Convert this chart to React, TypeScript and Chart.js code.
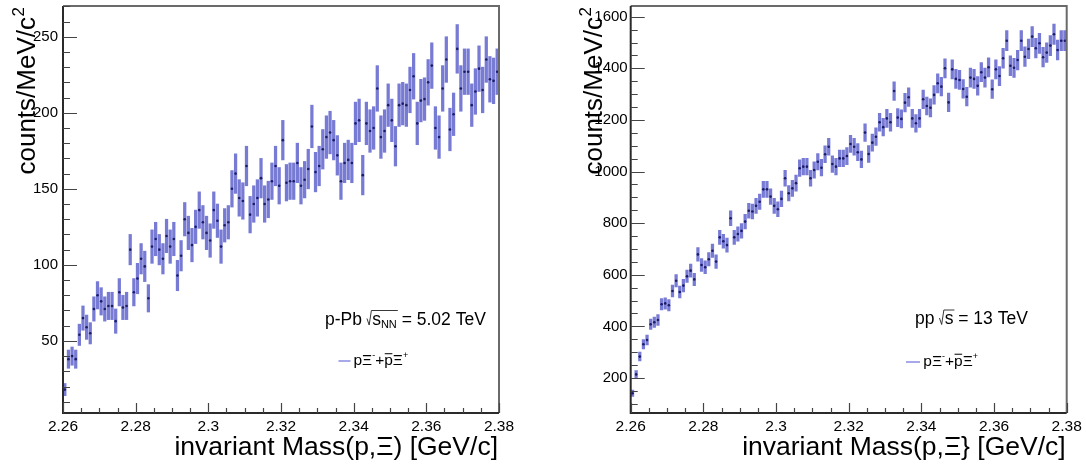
import React, { useEffect, useRef } from 'react';
import { Chart, registerables } from 'chart.js';

Chart.register(...registerables);

// ---------- data ----------
const MASS_BINS = [
  2.2605, 2.2615, 2.2625, 2.2635, 2.2645, 2.2655, 2.2665, 2.2675, 2.2685, 2.2695,
  2.2705, 2.2715, 2.2725, 2.2735, 2.2745, 2.2755, 2.2765, 2.2775, 2.2785, 2.2795,
  2.2805, 2.2815, 2.2825, 2.2835, 2.2845, 2.2855, 2.2865, 2.2875, 2.2885, 2.2895,
  2.2905, 2.2915, 2.2925, 2.2935, 2.2945, 2.2955, 2.2965, 2.2975, 2.2985, 2.2995,
  2.3005, 2.3015, 2.3025, 2.3035, 2.3045, 2.3055, 2.3065, 2.3075, 2.3085, 2.3095,
  2.3105, 2.3115, 2.3125, 2.3135, 2.3145, 2.3155, 2.3165, 2.3175, 2.3185, 2.3195,
  2.3205, 2.3215, 2.3225, 2.3235, 2.3245, 2.3255, 2.3265, 2.3275, 2.3285, 2.3295,
  2.3305, 2.3315, 2.3325, 2.3335, 2.3345, 2.3355, 2.3365, 2.3375, 2.3385, 2.3395,
  2.3405, 2.3415, 2.3425, 2.3435, 2.3445, 2.3455, 2.3465, 2.3475, 2.3485, 2.3495,
  2.3505, 2.3515, 2.3525, 2.3535, 2.3545, 2.3555, 2.3565, 2.3575, 2.3585, 2.3595,
  2.3605, 2.3615, 2.3625, 2.3635, 2.3645, 2.3655, 2.3665, 2.3675, 2.3685, 2.3695,
  2.3705, 2.3715, 2.3725, 2.3735, 2.3745, 2.3755, 2.3765, 2.3775, 2.3785, 2.3795,
];

const PPB_COUNTS = [
  18, 38, 40, 38, 54, 65, 59, 55, 71, 80,
  76, 71, 73, 73, 63, 82, 72, 73, 110, 82,
  91, 104, 99, 78, 112, 117, 110, 104, 119, 112,
  117, 93, 106, 130, 121, 113, 125, 136, 128, 121,
  116, 136, 129, 112, 126, 128, 150, 160, 144, 142,
  165, 133, 140, 144, 157, 140, 143, 155, 165, 152,
  182, 154, 155, 155, 167, 152, 156, 163, 191, 161,
  165, 176, 184, 187, 182, 172, 155, 167, 169, 167,
  193, 195, 159, 193, 188, 190, 216, 184, 188, 205,
  195, 178, 205, 206, 205, 215, 224, 193, 208, 209,
  220, 231, 190, 184, 216, 235, 189, 199, 242, 216,
  227, 227, 205, 214, 229, 215, 235, 222, 221, 227,
];

const PPB_ERRORS = [
  4, 6, 6, 6, 7, 8, 8, 7, 8, 9,
  9, 8, 9, 9, 8, 9, 8, 9, 10, 9,
  10, 10, 10, 9, 11, 11, 10, 10, 11, 11,
  11, 10, 10, 11, 11, 11, 11, 12, 11, 11,
  11, 12, 11, 11, 11, 11, 12, 13, 12, 12,
  13, 12, 12, 12, 13, 12, 12, 12, 13, 12,
  13, 12, 12, 12, 13, 12, 12, 13, 14, 13,
  13, 13, 14, 14, 13, 13, 12, 13, 13, 13,
  14, 14, 13, 14, 14, 14, 15, 14, 14, 14,
  14, 13, 14, 14, 14, 15, 15, 14, 14, 14,
  15, 15, 14, 14, 15, 15, 14, 14, 16, 15,
  15, 15, 14, 15, 15, 15, 15, 15, 15, 15,
];

const PP_COUNTS = [
  141, 214, 283, 331, 347, 408, 416, 425, 486, 489,
  482, 537, 577, 533, 558, 594, 616, 582, 679, 638,
  629, 660, 693, 651, 745, 730, 715, 819, 745, 758,
  770, 806, 848, 845, 867, 883, 931, 931, 903, 867,
  854, 894, 974, 916, 935, 955, 1013, 1019, 1019, 974,
  1006, 1038, 1015, 1067, 1096, 1029, 1019, 1051, 1051, 1060,
  1107, 1096, 1075, 1047, 1151, 1068, 1112, 1135, 1191, 1172,
  1206, 1191, 1312, 1209, 1204, 1267, 1288, 1206, 1187, 1206,
  1280, 1254, 1247, 1297, 1342, 1329, 1400, 1268, 1396, 1359,
  1355, 1320, 1290, 1364, 1359, 1332, 1385, 1364, 1404, 1319,
  1396, 1370, 1439, 1507, 1410, 1402, 1432, 1507, 1445, 1475,
  1523, 1478, 1497, 1443, 1461, 1488, 1532, 1471, 1507, 1507,
];

const PP_ERRORS = [
  12, 15, 17, 18, 19, 20, 20, 21, 22, 22,
  22, 23, 24, 23, 24, 24, 25, 24, 26, 25,
  25, 26, 26, 26, 27, 27, 27, 29, 27, 28,
  28, 28, 29, 29, 29, 30, 31, 31, 30, 29,
  29, 30, 31, 30, 31, 31, 32, 32, 32, 31,
  32, 32, 32, 33, 33, 32, 32, 32, 32, 33,
  33, 33, 33, 32, 34, 33, 33, 34, 35, 34,
  35, 35, 36, 35, 35, 36, 36, 35, 34, 35,
  36, 35, 35, 36, 37, 36, 37, 36, 37, 37,
  37, 36, 36, 37, 37, 36, 37, 37, 37, 36,
  37, 37, 38, 39, 38, 37, 38, 39, 38, 38,
  39, 38, 39, 38, 38, 39, 39, 38, 39, 39,
];

const X_TICKS = [2.26, 2.28, 2.3, 2.32, 2.34, 2.36, 2.38];
const X_TICK_LABELS = ['2.26', '2.28', '2.3', '2.32', '2.34', '2.36', '2.38'];
const PPB_Y_TICKS = [50, 100, 150, 200, 250];
const PPB_Y_TICK_LABELS = ['50', '100', '150', '200', '250'];
const PP_Y_TICKS = [200, 400, 600, 800, 1000, 1200, 1400, 1600];
const PP_Y_TICK_LABELS = ['200', '400', '600', '800', '1000', '1200', '1400', '1600'];

const Y_TITLE = 'counts/MeV/c';
const PPB_X_TITLE = 'invariant Mass(p,\u039E) [GeV/c]';
const PP_X_TITLE = 'invariant Mass(p,\u039E} [GeV/c]';

// ---------- styling / layout ----------
const FONT = '"Liberation Sans", Arial, Helvetica, sans-serif';
const CANVAS_W = 543;
const CANVAS_H = 470;

type Spec = {
  counts: number[];
  errors: number[];
  yMin: number;
  yMax: number;
  yTicks: number[];
  yTickLabels: string[];
  yMinorStep: number;
  canvasLeft: number;
  areaLeft: number;
  areaRight: number;
  areaTop: number;
  areaBottom: number;
  yLabelPad: number;
  yTitleX: number;
  xTitle: string;
  system: 'ppb' | 'pp';
  energyX: number;
  energyY: number;
  legendLineX0: number;
  legendLineX1: number;
  legendLineY: number;
  legendTextX: number;
  legendTextY: number;
};

const PANELS: Spec[] = [
  {
    counts: PPB_COUNTS,
    errors: PPB_ERRORS,
    yMin: 2.6,
    yMax: 270.2,
    yTicks: PPB_Y_TICKS,
    yTickLabels: PPB_Y_TICK_LABELS,
    yMinorStep: 10,
    canvasLeft: 0,
    areaLeft: 63,
    areaRight: 499,
    areaTop: 6,
    areaBottom: 413,
    yLabelPad: 5,
    yTitleX: 35,
    xTitle: PPB_X_TITLE,
    system: 'ppb',
    energyX: 325,
    energyY: 324.5,
    legendLineX0: 338.5,
    legendLineX1: 350.5,
    legendLineY: 361,
    legendTextX: 353.5,
    legendTextY: 365,
  },
  {
    counts: PP_COUNTS,
    errors: PP_ERRORS,
    yMin: 64.4,
    yMax: 1641.5,
    yTicks: PP_Y_TICKS,
    yTickLabels: PP_Y_TICK_LABELS,
    yMinorStep: 50,
    canvasLeft: 543,
    areaLeft: 87.7,
    areaRight: 523.7,
    areaTop: 6,
    areaBottom: 413,
    yLabelPad: 3,
    yTitleX: 59,
    xTitle: PP_X_TITLE,
    system: 'pp',
    energyX: 372,
    energyY: 324,
    legendLineX0: 363,
    legendLineX1: 377,
    legendLineY: 362,
    legendTextX: 380.3,
    legendTextY: 365.5,
  },
];

type Run = { t: string; size: number; dy?: number; over?: boolean; gap?: number };

function drawRuns(ctx: CanvasRenderingContext2D, x: number, y: number, runs: Run[]) {
  let cx = x;
  for (const r of runs) {
    ctx.font = `${r.size}px ${FONT}`;
    const w = ctx.measureText(r.t).width;
    const yy = y + (r.dy || 0);
    ctx.fillText(r.t, cx, yy);
    if (r.over) ctx.fillRect(cx + 0.5, yy - r.size * 0.76, w - 1, 1);
    cx += w + (r.gap || 0);
  }
  return cx;
}

function makeDecorPlugin(p: Spec) {
  return {
    id: 'rootDecor' + p.system,
    afterDraw(chart: any) {
      const ctx: CanvasRenderingContext2D = chart.ctx;
      const a = chart.chartArea;
      const xs = chart.scales.x;
      const ys = chart.scales.y;
      ctx.save();

      // frame
      ctx.lineWidth = 2;
      ctx.strokeStyle = '#6a6a6a';
      ctx.beginPath();
      ctx.moveTo(a.left, a.top);
      ctx.lineTo(a.right, a.top);
      ctx.lineTo(a.right, a.bottom);
      ctx.stroke();
      ctx.strokeStyle = '#2a2a2a';
      ctx.beginPath();
      ctx.moveTo(a.left, a.top);
      ctx.lineTo(a.left, a.bottom);
      ctx.lineTo(a.right, a.bottom);
      ctx.stroke();

      // ticks (inward, ROOT style)
      ctx.lineWidth = 1.2;
      ctx.strokeStyle = '#444';
      ctx.beginPath();
      const first = Math.ceil(p.yMin / p.yMinorStep) * p.yMinorStep;
      for (let v = first; v <= p.yMax; v += p.yMinorStep) {
        const py = Math.round(ys.getPixelForValue(v)) + 0.5;
        const major = p.yTicks.indexOf(v) >= 0;
        ctx.moveTo(a.left, py);
        ctx.lineTo(a.left + (major ? 14 : 7), py);
      }
      for (let k = 0; k <= 24; k++) {
        const v = 2.26 + k * 0.005;
        const px = Math.round(xs.getPixelForValue(v)) + 0.5;
        const major = k % 4 === 0;
        ctx.moveTo(px, a.bottom);
        ctx.lineTo(px, a.bottom - (major ? 10 : 5));
      }
      ctx.stroke();

      ctx.fillStyle = '#000';
      ctx.textAlign = 'left';
      ctx.textBaseline = 'alphabetic';

      // x title
      ctx.font = `26.5px ${FONT}`;
      ctx.textAlign = 'right';
      ctx.fillText(p.xTitle, a.right - 1, 455);

      // y title (rotated, right-aligned to top of axis)
      ctx.textAlign = 'left';
      ctx.font = `26px ${FONT}`;
      const w1 = ctx.measureText(Y_TITLE).width;
      const endMain = 17;
      ctx.save();
      ctx.translate(p.yTitleX, endMain + w1);
      ctx.rotate(-Math.PI / 2);
      ctx.fillText(Y_TITLE, 0, 0);
      ctx.font = `17px ${FONT}`;
      ctx.fillText('2', w1 + 0.5, -11);
      ctx.restore();

      // energy label
      const ES = 17.5;
      ctx.fillStyle = '#000';
      const by = p.energyY;
      let cx = drawRuns(ctx, p.energyX, by, [{ t: p.system === 'ppb' ? 'p-Pb' : 'pp', size: ES, gap: 5 }]);
      // radical
      ctx.strokeStyle = '#222';
      ctx.lineWidth = 0.9;
      ctx.beginPath();
      ctx.moveTo(cx, by - 6);
      ctx.lineTo(cx + 2.2, by + 0.5);
      ctx.lineTo(cx + 4.4, by - 14);
      const sx = cx + 5.2;
      let ex: number;
      if (p.system === 'ppb') {
        ex = drawRuns(ctx, sx, by, [
          { t: 's', size: ES },
          { t: 'NN', size: 11, dy: 3 },
        ]);
      } else {
        ex = drawRuns(ctx, sx, by, [{ t: 's', size: ES }]);
      }
      ctx.lineTo(ex + 1, by - 14);
      ctx.stroke();
      drawRuns(ctx, ex, by, [{ t: p.system === 'ppb' ? ' = 5.02 TeV' : ' = 13 TeV', size: ES }]);

      // legend
      ctx.strokeStyle = '#8a8ce0';
      ctx.lineWidth = 1.5;
      ctx.beginPath();
      ctx.moveTo(p.legendLineX0, p.legendLineY);
      ctx.lineTo(p.legendLineX1, p.legendLineY);
      ctx.stroke();
      ctx.fillStyle = '#000';
      const LS = 15.5;
      drawRuns(ctx, p.legendTextX, p.legendTextY, [
        { t: 'p\u039E', size: LS },
        { t: '-', size: 9, dy: -7 },
        { t: '+', size: LS },
        { t: 'p', size: LS, over: true },
        { t: '\u039E', size: LS },
        { t: '+', size: 9, dy: -7 },
      ]);

      ctx.restore();
    },
  };
}

function makeConfig(p: Spec): any {
  const points = MASS_BINS.map((x, i) => ({ x, y: p.counts[i] }));
  const bars = MASS_BINS.map((x, i) => ({ x, y: [p.counts[i] - p.errors[i], p.counts[i] + p.errors[i]] }));
  const yAxisWidth = p.areaLeft;
  const xAxisHeight = CANVAS_H - p.areaBottom;
  return {
    type: 'bar',
    data: {
      datasets: [
        {
          type: 'scatter',
          data: points,
          pointStyle: 'circle',
          pointRadius: 1.3,
          pointBackgroundColor: '#1b1b66',
          pointBorderWidth: 0,
          order: 0,
        },
        {
          type: 'bar',
          data: bars,
          backgroundColor: 'rgba(96,100,205,0.85)',
          borderWidth: 0,
          barThickness: 2.6,
          order: 1,
        },
      ],
    },
    options: {
      responsive: false,
      maintainAspectRatio: false,
      animation: false,
      events: [],
      layout: { padding: { left: 0, right: CANVAS_W - p.areaRight, top: p.areaTop, bottom: 0 } },
      plugins: { legend: { display: false }, tooltip: { enabled: false } },
      scales: {
        x: {
          type: 'linear',
          min: 2.26,
          max: 2.38,
          offset: false,
          grid: { display: false, drawTicks: false },
          border: { display: false },
          afterBuildTicks: (s: any) => {
            s.ticks = X_TICKS.map((v) => ({ value: v }));
          },
          afterFit: (s: any) => {
            s.height = xAxisHeight;
            s.paddingLeft = 0;
            s.paddingRight = 0;
            s.paddingTop = 0;
            s.paddingBottom = 0;
          },
          ticks: {
            autoSkip: false,
            maxRotation: 0,
            minRotation: 0,
            padding: 4,
            color: '#000',
            font: { family: FONT, size: 15.5 },
            callback: (_v: any, i: number) => X_TICK_LABELS[i],
          },
        },
        y: {
          type: 'linear',
          min: p.yMin,
          max: p.yMax,
          grid: { display: false, drawTicks: false },
          border: { display: false },
          afterBuildTicks: (s: any) => {
            s.ticks = p.yTicks.map((v) => ({ value: v }));
          },
          afterFit: (s: any) => {
            s.width = yAxisWidth;
            s.paddingLeft = 0;
            s.paddingRight = 0;
            s.paddingTop = 0;
            s.paddingBottom = 0;
          },
          ticks: {
            autoSkip: false,
            padding: p.yLabelPad,
            color: '#000',
            font: { family: FONT, size: 15 },
            callback: (_v: any, i: number) => p.yTickLabels[i],
          },
        },
      },
    },
    plugins: [makeDecorPlugin(p)],
  };
}

function Panel({ spec }: { spec: Spec }) {
  const ref = useRef<HTMLCanvasElement | null>(null);
  useEffect(() => {
    if (!ref.current) return;
    const chart = new Chart(ref.current, makeConfig(spec));
    return () => chart.destroy();
  }, [spec]);
  return (
    <canvas
      ref={ref}
      width={CANVAS_W}
      height={CANVAS_H}
      style={{ position: 'absolute', left: spec.canvasLeft, top: 0, width: CANVAS_W, height: CANVAS_H }}
    />
  );
}

export default function App() {
  return (
    <div style={{ position: 'absolute', left: 0, top: 0, width: 1086, height: 470, background: '#fff', overflow: 'hidden' }}>
      {PANELS.map((p) => (
        <Panel key={p.system} spec={p} />
      ))}
    </div>
  );
}
